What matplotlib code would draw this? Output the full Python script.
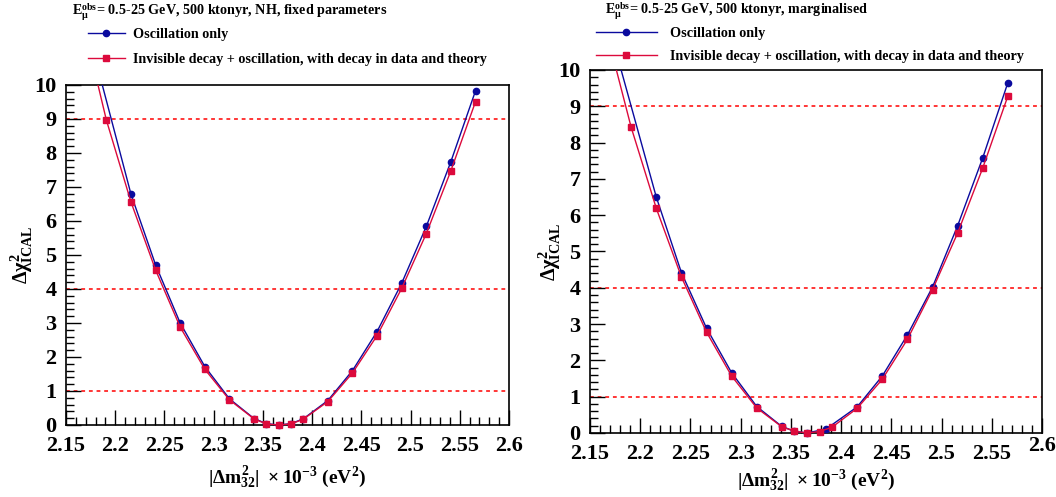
import numpy as np
import matplotlib
matplotlib.use("Agg")
import matplotlib.pyplot as plt
from matplotlib.transforms import Bbox, TransformedBbox, ScaledTranslation

plt.rcParams['font.family'] = ['Liberation Serif', 'DejaVu Serif']
plt.rcParams['font.weight'] = 'bold'
plt.rcParams['axes.labelweight'] = 'bold'
plt.rcParams['mathtext.fontset'] = 'custom'
plt.rcParams['mathtext.rm'] = 'Liberation Serif:bold'
plt.rcParams['mathtext.it'] = 'Liberation Serif:bold'
plt.rcParams['mathtext.bf'] = 'Liberation Serif:bold'

# delta m^2_32 grid (x 10^-3 eV^2)
x_red = [2.166, 2.191, 2.216, 2.241, 2.266, 2.291, 2.316, 2.341, 2.3535, 2.366,
         2.3785, 2.391, 2.416, 2.441, 2.466, 2.491, 2.516, 2.541, 2.566]
x_blue_l = [2.166, 2.216, 2.241, 2.266, 2.291, 2.316, 2.341, 2.3535, 2.366,
            2.3785, 2.391, 2.416, 2.441, 2.466, 2.491, 2.516, 2.541, 2.566]
x_blue_r = [2.166, 2.216, 2.241, 2.266, 2.291, 2.316, 2.341, 2.3535, 2.366,
            2.385, 2.416, 2.441, 2.466, 2.491, 2.516, 2.541, 2.566]

# left: NH, fixed parameters
osc_l = [12.3, 6.79, 4.71, 3.0, 1.72, 0.77, 0.19, 0.04, 0.0,
         0.04, 0.18, 0.72, 1.6, 2.75, 4.17, 5.84, 7.75, 9.83]
dec_l = [12.0, 8.97, 6.56, 4.56, 2.88, 1.64, 0.74, 0.18, 0.03, 0.0,
         0.03, 0.17, 0.69, 1.53, 2.63, 4.02, 5.63, 7.48, 9.51]
# right: marginalised
osc_r = [11.5, 6.50, 4.42, 2.89, 1.66, 0.73, 0.18, 0.05, 0.0,
         0.11, 0.72, 1.57, 2.70, 4.02, 5.71, 7.58, 9.65]
dec_r = [11.1, 8.42, 6.19, 4.30, 2.78, 1.57, 0.69, 0.17, 0.05, 0.0,
         0.04, 0.16, 0.68, 1.48, 2.58, 3.95, 5.51, 7.30, 9.28]

cl_levels = [1, 4, 9]
xticks = np.round(np.arange(2.15, 2.601, 0.05), 2)
xticklabels = ['2.15', '2.2', '2.25', '2.3', '2.35', '2.4', '2.45', '2.5', '2.55', '2.6']
yticks = list(range(0, 11))

lab_osc = 'Oscillation only'
lab_dec = 'Invisible decay + oscillation, with decay in data and theory'
titles = [r'E$_{\mu}^{obs}$= 0.5-25 GeV, 500 ktonyr, NH, fixed parameters',
          r'E$_{\mu}^{obs}$= 0.5-25 GeV, 500 ktonyr, marginalised']

blue = '#0a0a9e'
red = '#dc0a3c'

W, H = 1056, 497
fig = plt.figure(figsize=(W / 100, H / 100), dpi=100)

def fx(px):
    return px / W

def fy(py):
    return 1 - py / H

ax1 = fig.add_axes([fx(66), fy(425), fx(509 - 66), fy(85) - fy(425)])
ax2 = fig.add_axes([fx(590), fy(433), fx(1042 - 590), fy(70) - fy(433)])

panels = [(ax1, x_blue_l, osc_l, dec_l), (ax2, x_blue_r, osc_r, dec_r)]
handles = []
for ax, xb, ob, dr in panels:
    ax.set_xlim(2.15, 2.6)
    ax.set_ylim(0, 10)
    for lv in cl_levels:
        ax.axhline(lv, color='#ff0000', lw=1.1, ls=(0, (2.5, 2.5)), zorder=1)
    lb, = ax.plot(xb, ob, color=blue, lw=1.0, marker='o', ms=4.5, mec=blue, mfc=blue, zorder=3)
    lr, = ax.plot(x_red, dr, color=red, lw=1.0, marker='s', ms=4.8, mec=red, mfc=red, zorder=4)
    clip = TransformedBbox(Bbox.from_extents(-0.02, -0.03, 1.02, 1.0), ax.transAxes)
    lb.set_clip_box(clip)
    lr.set_clip_box(clip)
    handles.append((lb, lr))

    ax.set_xticks(xticks)
    ax.set_xticklabels(xticklabels)
    ax.set_xticks(np.arange(2.15, 2.6001, 0.01), minor=True)
    ax.set_yticks(yticks)
    ax.set_yticks(np.arange(0, 10.001, 0.2), minor=True)
    ax.tick_params(which='both', direction='in', top=False, right=False,
                   labelsize=16)
    ax.tick_params(which='major', length=11, width=1.0)
    ax.tick_params(which='minor', length=5.5, width=1.0)
    ax.tick_params(axis='x', pad=8)
    ax.tick_params(axis='y', pad=7)
    for s in ax.spines.values():
        s.set_linewidth(1.2)
    ax.set_ylabel(r'$\Delta\chi^{2}_{ICAL}$', fontsize=14.5, va='center')
    ax.set_xlabel(r'$|\Delta m^{2}_{32}|\ \times 10^{-3}$ (eV$^{2}$)', fontsize=14, va='center')

ax1.yaxis.set_label_coords(-(66 - 22) / (509 - 66), 0.5)
ax2.yaxis.set_label_coords(-(590 - 550) / (1042 - 590), 0.5)
ax1.xaxis.set_label_coords(0.5, -(477 - 425) / (425 - 85))
ax2.xaxis.set_label_coords(0.5, -(480 - 433) / (433 - 70))

# ROOT drew the last label of the right panel slightly raised
lastlab = ax2.xaxis.get_major_ticks()[-1].label1
lastlab.set_transform(lastlab.get_transform() + ScaledTranslation(0, 6 / 72, fig.dpi_scale_trans))

fig.text(fx(72), fy(12), titles[0], fontsize=10.2, va='center', ha='left')
fig.text(fx(605), fy(11), titles[1], fontsize=10.2, va='center', ha='left')

lb, lr = handles[0]
fig.legend([lb, lr], [lab_osc, lab_dec], loc='upper left',
           bbox_to_anchor=(fx(88), fy(28)), frameon=False, fontsize=10.15,
           handlelength=2.6, handletextpad=0.6, labelspacing=0.85,
           borderpad=0, borderaxespad=0)
lb, lr = handles[1]
fig.legend([lb, lr], [lab_osc, lab_dec], loc='upper left',
           bbox_to_anchor=(fx(596), fy(27)), frameon=False, fontsize=10.15,
           handlelength=4.3, handletextpad=0.95, labelspacing=0.7,
           borderpad=0, borderaxespad=0)

fig.savefig('out.png', dpi=100)
